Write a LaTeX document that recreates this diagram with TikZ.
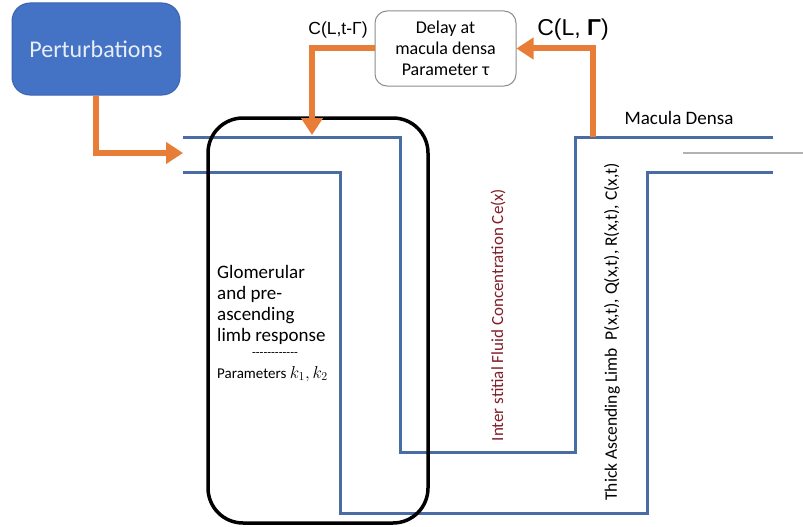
\documentclass[tikz,border=0pt]{standalone}
\usepackage{fontspec}
\setmainfont{Carlito}
\newfontfamily\arialf{Liberation Sans}
\newfontfamily\dashf{Carlito}[Ligatures=TeXOff]
\usetikzlibrary{arrows.meta}
\definecolor{pblue}{RGB}{68,114,196}
\definecolor{pborder}{RGB}{60,100,175}
\definecolor{tblue}{RGB}{74,108,165}
\definecolor{oarrow}{RGB}{232,125,55}
\definecolor{dred}{RGB}{130,30,40}
\definecolor{ptext}{RGB}{232,238,248}
\begin{document}
\begin{tikzpicture}[x=1pt,y=-1pt,
  tube/.style={draw=tblue,line width=3pt},
  oarr/.style={draw=oarrow,line width=6pt,-{Triangle[length=17pt,width=21pt]}},
  pertbox/.style={draw=pborder,fill=pblue,rounded corners=18pt,line width=1pt,
    minimum width=168pt,minimum height=92pt,text=ptext,
    font=\fontsize{24}{26}\selectfont},
  delaybox/.style={draw=black!45,fill=white,rounded corners=12pt,line width=1pt,
    minimum width=141pt,minimum height=75pt,align=center,inner sep=0pt,
    font=\fontsize{18}{21}\selectfont},
  glomframe/.style={draw=black,line width=3.5pt,rounded corners=35pt},
  body/.style={font=\fontsize{19}{21}\selectfont},
  vlabel/.style={rotate=90,font=\fontsize{17.5}{18}\selectfont}
]
\useasboundingbox (0,0) rectangle (803,527);
\fill[white] (0,0) rectangle (803,527);

% tubules
\draw[tube] (183,137) -| (400,452) -| (575,137) -- (773,137);
\draw[tube] (183,172) -| (340,513) -| (647,172) -- (773,172);
\draw[black!30,line width=1.2pt] (683,153) -- (803,153);

% glomerular frame
\node[glomframe,minimum width=220pt,minimum height=405pt,inner sep=0pt] (glomframe) at (318,320.5) {};

% nodes
\node[pertbox] (pert) at (96,49) {Perturbations};
\node[delaybox] (delay) at (445.5,48.5) {Delay at\\macula densa\\Parameter τ};

\node[body,align=left,anchor=north west,inner sep=0pt] (glom) at (217,265)
  {Glomerular\\and pre-\\ascending\\limb response};
\node[inner sep=0pt,font=\dashf\fontsize{12.5}{12}\selectfont] (dash) at (275,355) {------------};
\node[inner sep=0pt,anchor=west,font=\fontsize{15}{17}\selectfont] (params) at (217,374)
  {Parameters {\fontsize{17}{17}\selectfont$k_1,k_2$}};

\node[vlabel,font=\fontsize{17}{18}\selectfont,text=dred] (ifc) at (498,315) {Inter stitial Fluid Concentration Ce(x)};
\node[vlabel] (tal) at (612,332) {Thick Ascending Limb\ \ P(x,t), Q(x,t), R(x,t), C(x,t)};

\node[font=\arialf\fontsize{17.5}{17.5}\selectfont] (lbl1) at (338,30) {C(L,t-Γ)};
\node[font=\arialf\fontsize{23}{23}\selectfont] (lbl2) at (573,30) {C(L, \textbf{Γ})};
\node[body] (md) at (679,118) {Macula Densa};

% coordinates for connector ends
\coordinate (inlet) at (183,153);
\coordinate (tip1) at (312,135);
\coordinate (mdtap) at (593,137);

% connectors
\draw[oarr] (pert.south) |- (inlet);
\draw[oarr] (delay.west) -| (tip1);
\draw[oarr] (mdtap) |- (delay.east);
\end{tikzpicture}
\end{document}
